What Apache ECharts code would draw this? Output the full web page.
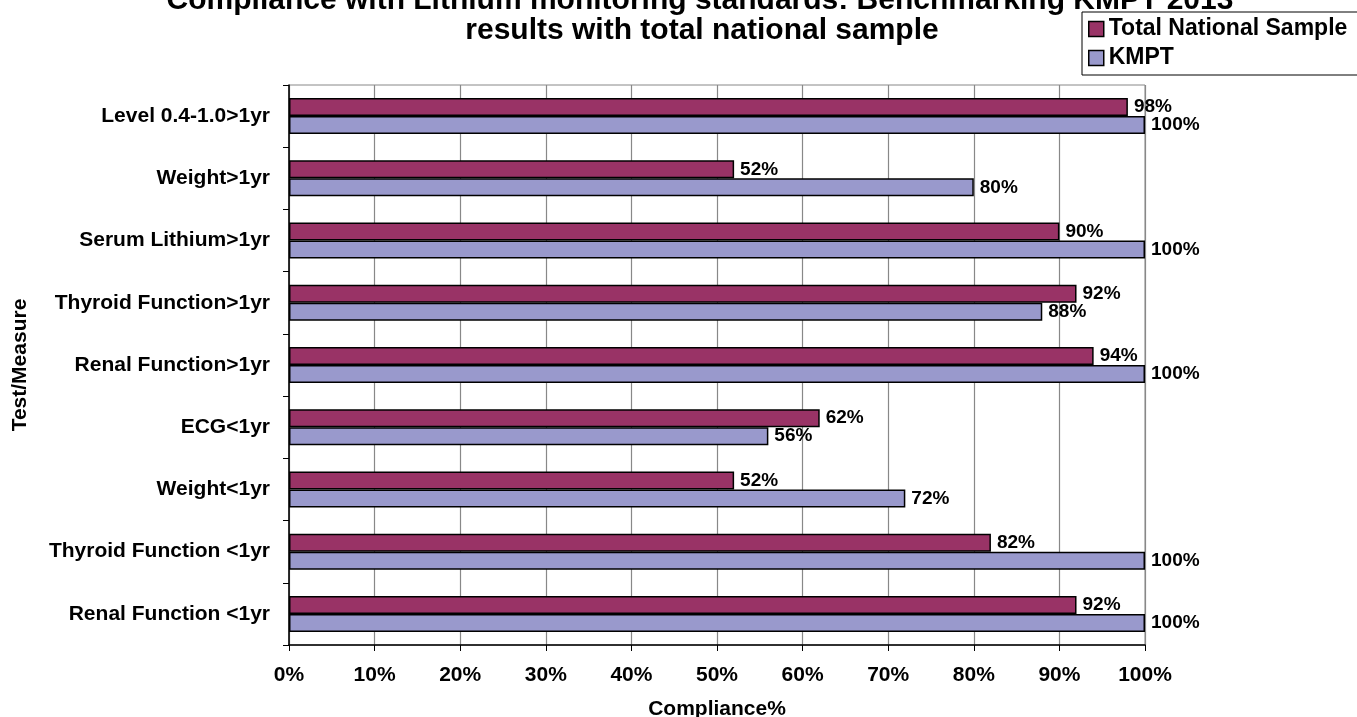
<!DOCTYPE html>
<html>
<head>
<meta charset="UTF-8">
<title>Lithium monitoring compliance</title>
<script src="https://cdn.jsdelivr.net/npm/echarts@6/dist/echarts.min.js"></script>
<style>
  html, body { margin: 0; padding: 0; background: #fff; }
  #main { width: 1357px; height: 717px; }
</style>
</head>
<body>
<div id="main"></div>
<script>
  // categories, top to bottom
  var measures = ['Level 0.4-1.0>1yr', 'Weight>1yr', 'Serum Lithium>1yr', 'Thyroid Function>1yr',
    'Renal Function>1yr', 'ECG<1yr', 'Weight<1yr', 'Thyroid Function <1yr', 'Renal Function <1yr'];
  var nationalValues = [98, 52, 90, 92, 94, 62, 52, 82, 92];
  var kmptValues = [100, 80, 100, 88, 100, 56, 72, 100, 100];
  var seriesNames = ['Total National Sample', 'KMPT'];

  var font = 'Liberation Sans, Arial, sans-serif';
  var chart = echarts.init(document.getElementById('main'));

  function barSeries(name, data, color) {
    return {
      name: name,
      type: 'bar',
      data: data,
      barWidth: 18,
      barGap: '0%',
      itemStyle: { color: color, borderColor: '#000', borderWidth: 1.5 },
      label: {
        show: true, position: 'right', distance: 6,
        formatter: '{c}%', color: '#000', fontWeight: 'bold', fontSize: 19, fontFamily: font
      }
    };
  }

  var titleStyle = { fontSize: 30, fontWeight: 'bold', color: '#000', fontFamily: font, lineHeight: 30 };

  chart.setOption({
    animation: false,
    title: [
      { text: 'Compliance with Lithium monitoring standards: Benchmarking KMPT 2013',
        left: 700, top: -14, textAlign: 'center', padding: 0, textStyle: titleStyle },
      { text: 'results with total national sample',
        left: 702, top: 16, textAlign: 'center', padding: 0, textStyle: titleStyle }
    ],
    legend: {
      data: seriesNames,
      orient: 'vertical',
      left: 1082, top: 12,
      padding: [5, 20, 5, 6],
      itemGap: 5,
      itemWidth: 15, itemHeight: 15,
      backgroundColor: '#fff',
      borderColor: '#000', borderWidth: 1,
      icon: 'rect',
      itemStyle: { borderColor: '#000', borderWidth: 1.5 },
      textStyle: { fontSize: 23, lineHeight: 24, fontWeight: 'bold', color: '#000', fontFamily: font }
    },
    grid: {
      left: 289, right: 212, top: 85, bottom: 72,
      outerBoundsMode: 'none', containLabel: false,
      show: true, borderColor: '#888', borderWidth: 1
    },
    xAxis: {
      type: 'value', min: 0, max: 100, interval: 10,
      name: 'Compliance%', nameLocation: 'middle', nameGap: 54,
      nameTextStyle: { fontSize: 21, fontWeight: 'bold', color: '#000', fontFamily: font },
      axisLine: { show: true, lineStyle: { color: '#000', width: 1.5 } },
      axisTick: { show: true, length: 6, lineStyle: { color: '#000' } },
      axisLabel: { formatter: '{value}%', fontSize: 21, fontWeight: 'bold', color: '#000', fontFamily: font, margin: 20 },
      splitLine: { show: true, lineStyle: { color: '#888', width: 1.2 } }
    },
    yAxis: {
      type: 'category', data: measures, inverse: true,
      name: 'Test/Measure', nameLocation: 'middle', nameGap: 258, nameRotate: 90,
      nameTextStyle: { fontSize: 21, fontWeight: 'bold', color: '#000', fontFamily: font },
      axisLine: { show: true, lineStyle: { color: '#000', width: 1.5 } },
      axisTick: { show: true, length: 6, lineStyle: { color: '#000' } },
      axisLabel: { fontSize: 21, fontWeight: 'bold', color: '#000', fontFamily: font, margin: 19 }
    },
    series: [
      barSeries(seriesNames[0], nationalValues, '#993366'),
      barSeries(seriesNames[1], kmptValues, '#9999CC')
    ]
  });
</script>
</body>
</html>
